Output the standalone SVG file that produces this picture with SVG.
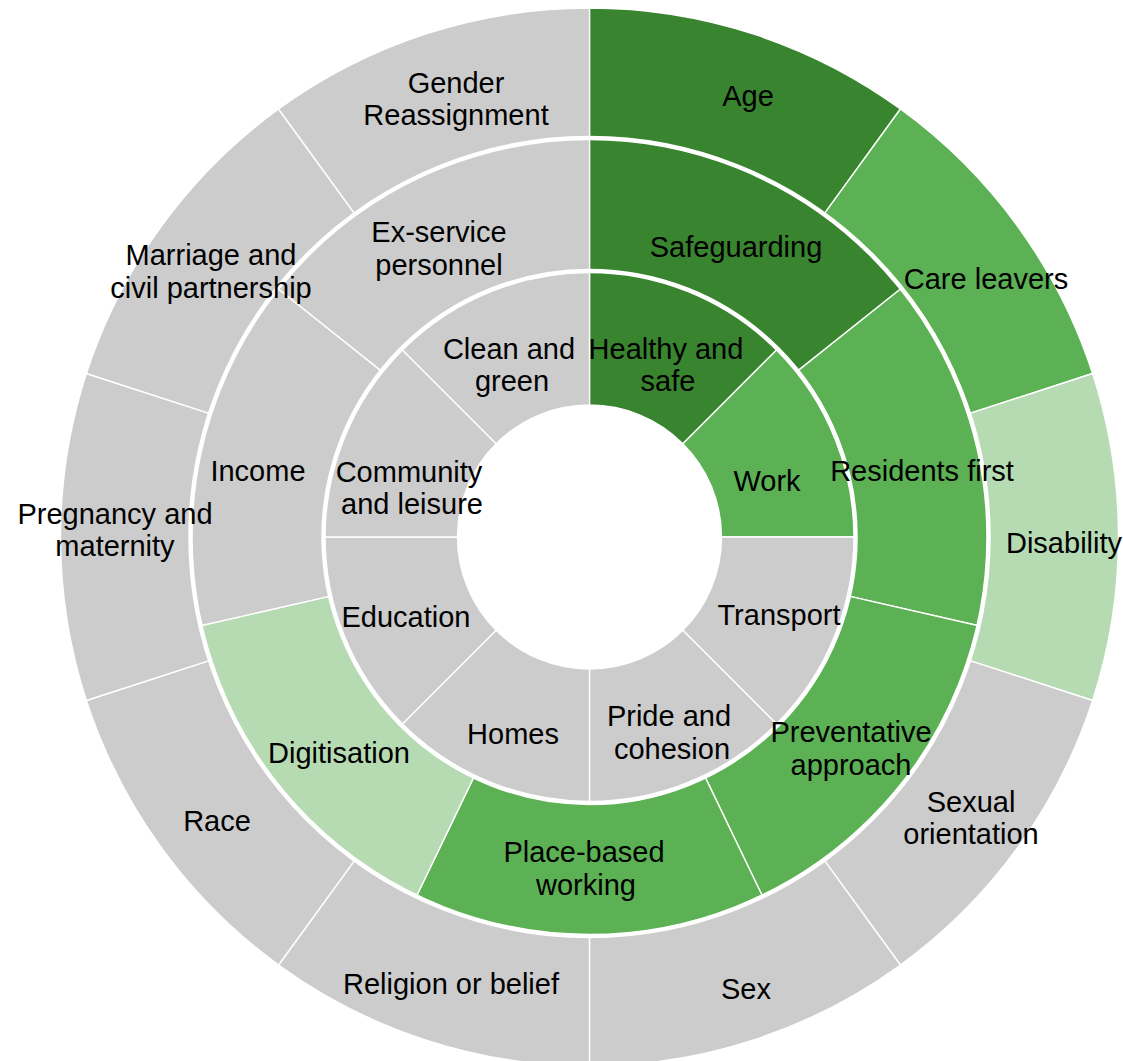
<svg xmlns="http://www.w3.org/2000/svg" width="1123" height="1061" viewBox="0 0 1123 1061">
<style>
.seg{stroke:#ffffff;stroke-width:1.4;stroke-linejoin:round}
.dark{fill:#38842f}
.mid{fill:#5bb153}
.light{fill:#b6dbb3}
.gray{fill:#cccccc}
.ring{fill:none;stroke:#ffffff;stroke-width:4.5}
text{font-family:"Liberation Sans",Arial,Helvetica,sans-serif;font-size:29px;fill:#000000;text-anchor:middle}
</style>
<rect x="0" y="0" width="1123" height="1061" fill="#ffffff"/>

<g id="nodes">
<!-- Outer ring -->
<g id="age"><path class="seg dark" d="M589.5,8 A529,529 0 0 1 900.44,109.03 L824.03,214.2 A399,399 0 0 0 589.5,138 Z"/></g>
<g id="care-leavers"><path class="seg mid" d="M900.44,109.03 A529,529 0 0 1 1092.61,373.53 L968.97,413.7 A399,399 0 0 0 824.03,214.2 Z"/></g>
<g id="disability"><path class="seg light" d="M1092.61,373.53 A529,529 0 0 1 1092.61,700.47 L968.97,660.3 A399,399 0 0 0 968.97,413.7 Z"/></g>
<g id="sexual-orientation"><path class="seg gray" d="M1092.61,700.47 A529,529 0 0 1 900.44,964.97 L824.03,859.8 A399,399 0 0 0 968.97,660.3 Z"/></g>
<g id="sex"><path class="seg gray" d="M900.44,964.97 A529,529 0 0 1 589.5,1066 L589.5,936 A399,399 0 0 0 824.03,859.8 Z"/></g>
<g id="religion-or-belief"><path class="seg gray" d="M589.5,1066 A529,529 0 0 1 278.56,964.97 L354.97,859.8 A399,399 0 0 0 589.5,936 Z"/></g>
<g id="race"><path class="seg gray" d="M278.56,964.97 A529,529 0 0 1 86.39,700.47 L210.03,660.3 A399,399 0 0 0 354.97,859.8 Z"/></g>
<g id="pregnancy-and-maternity"><path class="seg gray" d="M86.39,700.47 A529,529 0 0 1 86.39,373.53 L210.03,413.7 A399,399 0 0 0 210.03,660.3 Z"/></g>
<g id="marriage-and-civil-partnership"><path class="seg gray" d="M86.39,373.53 A529,529 0 0 1 278.56,109.03 L354.97,214.2 A399,399 0 0 0 210.03,413.7 Z"/></g>
<g id="gender-reassignment"><path class="seg gray" d="M278.56,109.03 A529,529 0 0 1 589.5,8 L589.5,138 A399,399 0 0 0 354.97,214.2 Z"/></g>

<!-- Middle ring -->
<g id="safeguarding"><path class="seg dark" d="M589.5,138 A399,399 0 0 1 901.45,288.23 L797.47,371.15 A266,266 0 0 0 589.5,271 Z"/></g>
<g id="residents-first"><path class="seg mid" d="M901.45,288.23 A399,399 0 0 1 978.5,625.79 L848.83,596.19 A266,266 0 0 0 797.47,371.15 Z"/></g>
<g id="preventative-approach"><path class="seg mid" d="M978.5,625.79 A399,399 0 0 1 762.62,896.49 L704.91,776.66 A266,266 0 0 0 848.83,596.19 Z"/></g>
<g id="place-based-working"><path class="seg mid" d="M762.62,896.49 A399,399 0 0 1 416.38,896.49 L474.09,776.66 A266,266 0 0 0 704.91,776.66 Z"/></g>
<g id="digitisation"><path class="seg light" d="M416.38,896.49 A399,399 0 0 1 200.5,625.79 L330.17,596.19 A266,266 0 0 0 474.09,776.66 Z"/></g>
<g id="income"><path class="seg gray" d="M200.5,625.79 A399,399 0 0 1 277.55,288.23 L381.53,371.15 A266,266 0 0 0 330.17,596.19 Z"/></g>
<g id="ex-service-personnel"><path class="seg gray" d="M277.55,288.23 A399,399 0 0 1 589.5,138 L589.5,271 A266,266 0 0 0 381.53,371.15 Z"/></g>

<!-- Inner ring -->
<g id="healthy-and-safe"><path class="seg dark" d="M589.5,271 A266,266 0 0 1 777.59,348.91 L682.84,443.66 A132,132 0 0 0 589.5,405 Z"/></g>
<g id="work"><path class="seg mid" d="M777.59,348.91 A266,266 0 0 1 855.5,537 L721.5,537 A132,132 0 0 0 682.84,443.66 Z"/></g>
<g id="transport"><path class="seg gray" d="M855.5,537 A266,266 0 0 1 777.59,725.09 L682.84,630.34 A132,132 0 0 0 721.5,537 Z"/></g>
<g id="pride-and-cohesion"><path class="seg gray" d="M777.59,725.09 A266,266 0 0 1 589.5,803 L589.5,669 A132,132 0 0 0 682.84,630.34 Z"/></g>
<g id="homes"><path class="seg gray" d="M589.5,803 A266,266 0 0 1 401.41,725.09 L496.16,630.34 A132,132 0 0 0 589.5,669 Z"/></g>
<g id="education"><path class="seg gray" d="M401.41,725.09 A266,266 0 0 1 323.5,537 L457.5,537 A132,132 0 0 0 496.16,630.34 Z"/></g>
<g id="community-and-leisure"><path class="seg gray" d="M323.5,537 A266,266 0 0 1 401.41,348.91 L496.16,443.66 A132,132 0 0 0 457.5,537 Z"/></g>
<g id="clean-and-green"><path class="seg gray" d="M401.41,348.91 A266,266 0 0 1 589.5,271 L589.5,405 A132,132 0 0 0 496.16,443.66 Z"/></g>
</g>

<!-- Ring separators (no connectors in this chart) -->
<g id="connectors">
<circle class="ring" cx="589.5" cy="537" r="266"/>
<circle class="ring" cx="589.5" cy="537" r="399"/>
</g>

<g id="labels">
<g id="label-age"><text x="748" y="106">Age</text></g>
<g id="label-care-leavers"><text x="986" y="289">Care leavers</text></g>
<g id="label-disability"><text x="1064" y="553">Disability</text></g>
<g id="label-sexual-orientation"><text x="971" y="812">Sexual</text><text x="971" y="844">orientation</text></g>
<g id="label-sex"><text x="746" y="999">Sex</text></g>
<g id="label-religion-or-belief"><text x="451" y="994">Religion or belief</text></g>
<g id="label-race"><text x="217" y="831">Race</text></g>
<g id="label-pregnancy-and-maternity"><text x="115" y="524">Pregnancy and</text><text x="115" y="556">maternity</text></g>
<g id="label-marriage-and-civil-partnership"><text x="211" y="265">Marriage and</text><text x="211" y="298">civil partnership</text></g>
<g id="label-gender-reassignment"><text x="456" y="93">Gender</text><text x="456" y="125">Reassignment</text></g>
<g id="label-safeguarding"><text x="736" y="257">Safeguarding</text></g>
<g id="label-residents-first"><text x="922" y="481">Residents first</text></g>
<g id="label-preventative-approach"><text x="851" y="742">Preventative</text><text x="851" y="775">approach</text></g>
<g id="label-place-based-working"><text x="584" y="862">Place-based</text><text x="586" y="895">working</text></g>
<g id="label-digitisation"><text x="339" y="763">Digitisation</text></g>
<g id="label-income"><text x="258" y="481">Income</text></g>
<g id="label-ex-service-personnel"><text x="439" y="242">Ex-service</text><text x="439" y="275">personnel</text></g>
<g id="label-healthy-and-safe"><text x="666" y="359">Healthy and</text><text x="668" y="391">safe</text></g>
<g id="label-work"><text x="767" y="491">Work</text></g>
<g id="label-transport"><text x="779" y="625">Transport</text></g>
<g id="label-pride-and-cohesion"><text x="669" y="726">Pride and</text><text x="672" y="759">cohesion</text></g>
<g id="label-homes"><text x="513" y="744">Homes</text></g>
<g id="label-education"><text x="406" y="627">Education</text></g>
<g id="label-community-and-leisure"><text x="409" y="482">Community</text><text x="412" y="514">and leisure</text></g>
<g id="label-clean-and-green"><text x="509" y="359">Clean and</text><text x="512" y="391">green</text></g>
</g>
</svg>
